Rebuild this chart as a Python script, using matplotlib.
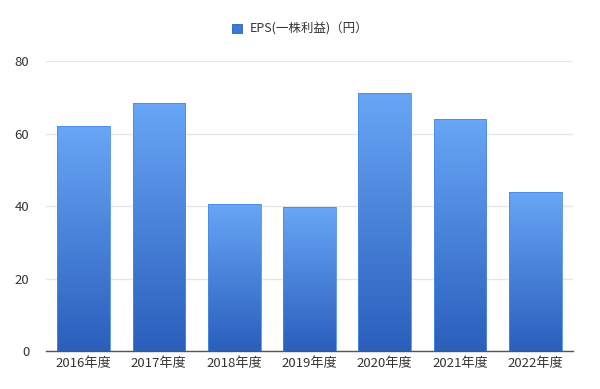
import matplotlib
matplotlib.use('Agg')
import matplotlib.pyplot as plt
from matplotlib.colors import LinearSegmentedColormap
from matplotlib.patches import Patch
import numpy as np

plt.rcParams['font.family'] = ['Noto Sans CJK JP', 'DejaVu Sans']

years = ['2016年度', '2017年度', '2018年度', '2019年度', '2020年度', '2021年度', '2022年度']
eps = [62.0, 68.5, 40.6, 39.7, 71.1, 64.0, 43.9]
label = 'EPS(一株利益)（円）'

fig = plt.figure(figsize=(6, 3.89), dpi=100)
ax = fig.add_axes([0.0767, 0.0977, 0.878, 0.745])

x = np.arange(len(years))
bars = ax.bar(x, eps, width=0.7, color='none', edgecolor='#4a8ae6', linewidth=0.6, zorder=3)

# vertical gradient inside each bar, dark at the bottom, light at the top
cmap = LinearSegmentedColormap.from_list('grad', ['#2a5fbc', '#68a6f6'])
grad = np.linspace(0, 1, 256).reshape(-1, 1)
for b in bars:
    x0, w, h = b.get_x(), b.get_width(), b.get_height()
    im = ax.imshow(grad, cmap=cmap, origin='lower', aspect='auto',
                   extent=[x0, x0 + w, 0, h], zorder=2)
    im.set_clip_path(b)

ax.set_xlim(-0.5, len(years) - 0.5)
ax.set_ylim(0, 80)
ax.set_yticks([0, 20, 40, 60, 80])
ax.set_xticks(x)
ax.set_xticklabels(years)
ax.grid(axis='y', color='#e6e6e6', linewidth=1, zorder=0)
ax.set_axisbelow(True)
for s in ['top', 'right', 'left']:
    ax.spines[s].set_visible(False)
ax.spines['bottom'].set_color('#555555')
ax.spines['bottom'].set_linewidth(1)
ax.tick_params(axis='both', length=0, labelsize=9.5, colors='#333333')
ax.tick_params(axis='y', pad=12)
ax.tick_params(axis='x', pad=4)

handle = Patch(facecolor='#3a78dc', edgecolor='#2a60bd', linewidth=0.6)
fig.legend([handle], [label], loc='center', bbox_to_anchor=(0.5, 0.925),
           frameon=False, fontsize=9, handlelength=0.8, handleheight=0.8,
           handletextpad=0.6, labelcolor='#333333')

fig.savefig('out.png', dpi=100)
